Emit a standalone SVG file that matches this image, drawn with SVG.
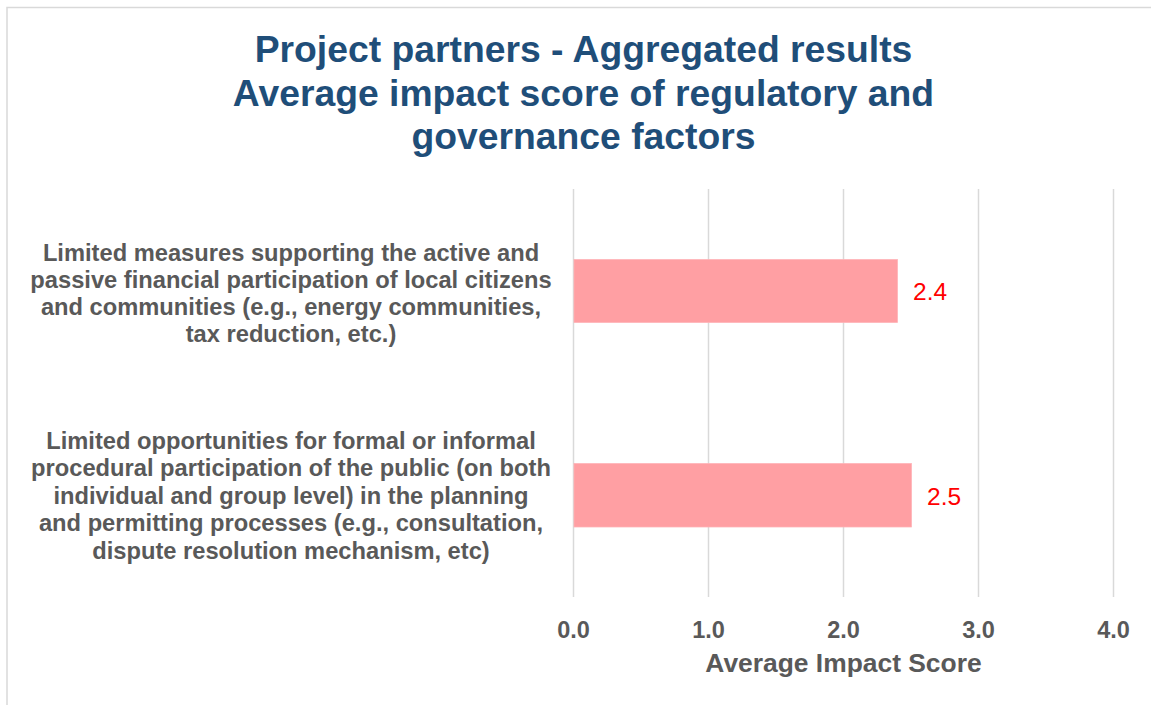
<svg xmlns="http://www.w3.org/2000/svg" width="1151" height="705" viewBox="0 0 1151 705">
  <style>
    .title { font-family: "Liberation Sans", Arial, sans-serif; font-weight: bold; font-size: 37.3px; fill: #1F4E79; text-anchor: middle; }
    .cat { font-family: "Liberation Sans", Arial, sans-serif; font-weight: bold; font-size: 23.7px; fill: #595959; text-anchor: middle; }
    .tick { font-family: "Liberation Sans", Arial, sans-serif; font-weight: bold; font-size: 23.5px; fill: #595959; text-anchor: middle; }
    .axt { font-family: "Liberation Sans", Arial, sans-serif; font-weight: bold; font-size: 26.4px; fill: #595959; text-anchor: middle; }
    .val { font-family: "Liberation Sans", Arial, sans-serif; font-size: 24.5px; fill: #FF0000; }
    .grid { stroke: #D9D9D9; stroke-width: 1.5; }
    .bar { fill: #FF9FA3; stroke: #FFB3B6; stroke-width: 0.75; }
  </style>
  <rect x="0" y="0" width="1151" height="705" fill="#FFFFFF"/>
  <rect x="7" y="7.5" width="1200" height="800" fill="#FFFFFF" stroke="#D9D9D9" stroke-width="1.5"/>

  <g id="title">
    <text class="title" x="583.5" y="61.5">Project partners - Aggregated results</text>
    <text class="title" x="583.5" y="105.5">Average impact score of regulatory and</text>
    <text class="title" x="583.5" y="149">governance factors</text>
  </g>

  <g id="gridlines">
    <line class="grid" x1="573.5" y1="189" x2="573.5" y2="597"/>
    <line class="grid" x1="708.5" y1="189" x2="708.5" y2="597"/>
    <line class="grid" x1="843.5" y1="189" x2="843.5" y2="597"/>
    <line class="grid" x1="978.5" y1="189" x2="978.5" y2="597"/>
    <line class="grid" x1="1113.5" y1="189" x2="1113.5" y2="597"/>
  </g>

  <g id="bar1">
    <rect class="bar" x="574" y="259.5" width="323.5" height="63"/>
    <text class="val" x="913" y="300">2.4</text>
  </g>
  <g id="bar2">
    <rect class="bar" x="574" y="463.5" width="337.5" height="63.5"/>
    <text class="val" x="927" y="504.5">2.5</text>
  </g>

  <g id="label1">
    <text class="cat" x="291" y="261">Limited measures supporting the active and</text>
    <text class="cat" x="291" y="288">passive financial participation of local citizens</text>
    <text class="cat" x="291" y="315">and communities (e.g., energy communities,</text>
    <text class="cat" x="291" y="342">tax reduction, etc.)</text>
  </g>
  <g id="label2">
    <text class="cat" x="291" y="448.5">Limited opportunities for formal or informal</text>
    <text class="cat" x="291" y="476">procedural participation of the public (on both</text>
    <text class="cat" x="291" y="503.5">individual and group level) in the planning</text>
    <text class="cat" x="291" y="531">and permitting processes (e.g., consultation,</text>
    <text class="cat" x="291" y="558.5">dispute resolution mechanism, etc)</text>
  </g>

  <g id="axis">
    <text class="tick" x="573.5" y="638">0.0</text>
    <text class="tick" x="708.5" y="638">1.0</text>
    <text class="tick" x="843.5" y="638">2.0</text>
    <text class="tick" x="978.5" y="638">3.0</text>
    <text class="tick" x="1113.5" y="638">4.0</text>
    <text class="axt" x="843.5" y="672">Average Impact Score</text>
  </g>
</svg>
